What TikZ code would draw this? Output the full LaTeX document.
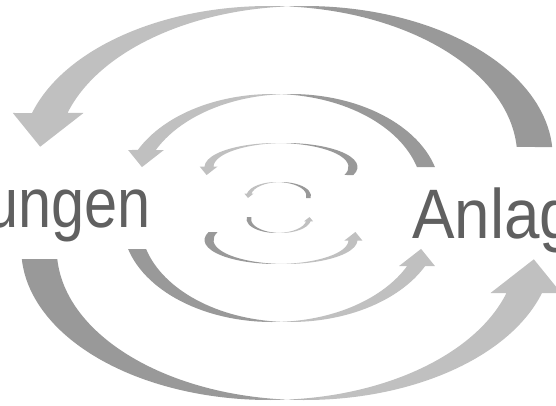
\documentclass[tikz,border=0pt]{standalone}
\usepackage{graphicx}
\usepackage{fontspec}
\setmainfont{Liberation Sans}
\definecolor{ardark}{RGB}{153,153,153}
\definecolor{arlight}{RGB}{192,192,192}
\definecolor{txtgray}{RGB}{96,96,96}
\pgfdeclarehorizontalshading{ltod}{100bp}{color(0bp)=(arlight); color(47bp)=(arlight); color(54bp)=(ardark); color(100bp)=(ardark)}
\pgfdeclarehorizontalshading{dtol}{100bp}{color(0bp)=(ardark); color(46bp)=(ardark); color(53bp)=(arlight); color(100bp)=(arlight)}
% #1 cx, #2 ellipse centre y, #3 a, #4 b, #5 thickness, #6 tail y, #7 head base y, #8 options
\newcommand{\halfarrow}[8]{%
\pgfmathsetmacro\hT{#5/2}%
\pgfmathsetmacro\xR{#1+\hT}%
\pgfmathsetmacro\xL{#1-\hT}%
\pgfmathsetmacro\aTop{asin(\hT/#3)}%
\pgfmathsetmacro\thRtop{90+\aTop}%
\pgfmathsetmacro\thLtop{90-\aTop}%
\pgfmathsetmacro\thTail{asin((#6-#2)/#4)}%
\pgfmathsetmacro\thBase{180-asin((#7-#2)/#4)}%
\pgfmathsetmacro\xTailO{\xR+#3*cos(\thTail)}%
\pgfmathsetmacro\xBaseO{\xL+#3*cos(\thBase)}%
\pgfmathsetmacro\xBaseI{\xR+#3*cos(\thBase)}%
\pgfmathsetmacro\xWingL{\xBaseO-0.54*#5}%
\pgfmathsetmacro\xWingR{\xBaseI+0.45*#5}%
\pgfmathsetmacro\xTip{#1+#3*cos(\thBase)-0.27*#5}%
\pgfmathsetmacro\yTip{#7-0.95*#5}%
\shade[#8] (\xTailO,#6)
  arc[start angle=\thTail,end angle=\thRtop,x radius=#3pt,y radius=#4pt]
  arc[start angle=\thLtop,end angle=\thBase,x radius=#3pt,y radius=#4pt]
  -- (\xWingL,#7) -- (\xTip,\yTip) -- (\xWingR,#7) -- (\xBaseI,#7)
  arc[start angle=\thBase,end angle=\thRtop,x radius=#3pt,y radius=#4pt]
  arc[start angle=\thLtop,end angle=\thTail,x radius=#3pt,y radius=#4pt]
  -- cycle;
}
\begin{document}
\begin{tikzpicture}[x=1pt,y=1pt,
  txt/.style={font=\fontsize{70}{80}\selectfont, text=txtgray, inner sep=0pt}]
\useasboundingbox (0,0) rectangle (556,405);
\clip (0,0) rectangle (556,405);
% ring 1
\halfarrow{287}{248}{248}{151}{35.5}{258}{292}{shading=ltod}
\begin{scope}[rotate around={180:(287,202)}]
\halfarrow{287}{248}{248}{151}{35.5}{258}{292}{shading=dtol}
\end{scope}
% ring 2
\halfarrow{281.5}{211}{150}{100}{18}{238}{255}{shading=ltod}
\begin{scope}[rotate around={180:(281.5,197)}]
\halfarrow{281.5}{211}{150}{100}{18}{238}{255}{shading=dtol}
\end{scope}
% ring 3
\halfarrow{281}{238}{72}{24}{9}{230}{238.5}{shading=ltod}
\begin{scope}[rotate around={180:(281,201.5)}]
\halfarrow{281}{238}{72}{24}{9}{230}{238.5}{shading=dtol}
\end{scope}
% ring 4
\halfarrow{278.75}{209}{30}{14}{4.5}{207}{211.3}{shading=ltod}
\begin{scope}[rotate around={180:(278.75,197.5)}]
\halfarrow{278.75}{209}{30}{14}{4.5}{207}{211.3}{shading=dtol}
\end{scope}
% texts
\node[txt, anchor=base east] (ungen) at (151,178) {\scalebox{0.85}[1]{ungen}};
\node[txt, anchor=base west] (anlag) at (412,167) {\scalebox{0.91}[1]{Anlag}};
\end{tikzpicture}
\end{document}
